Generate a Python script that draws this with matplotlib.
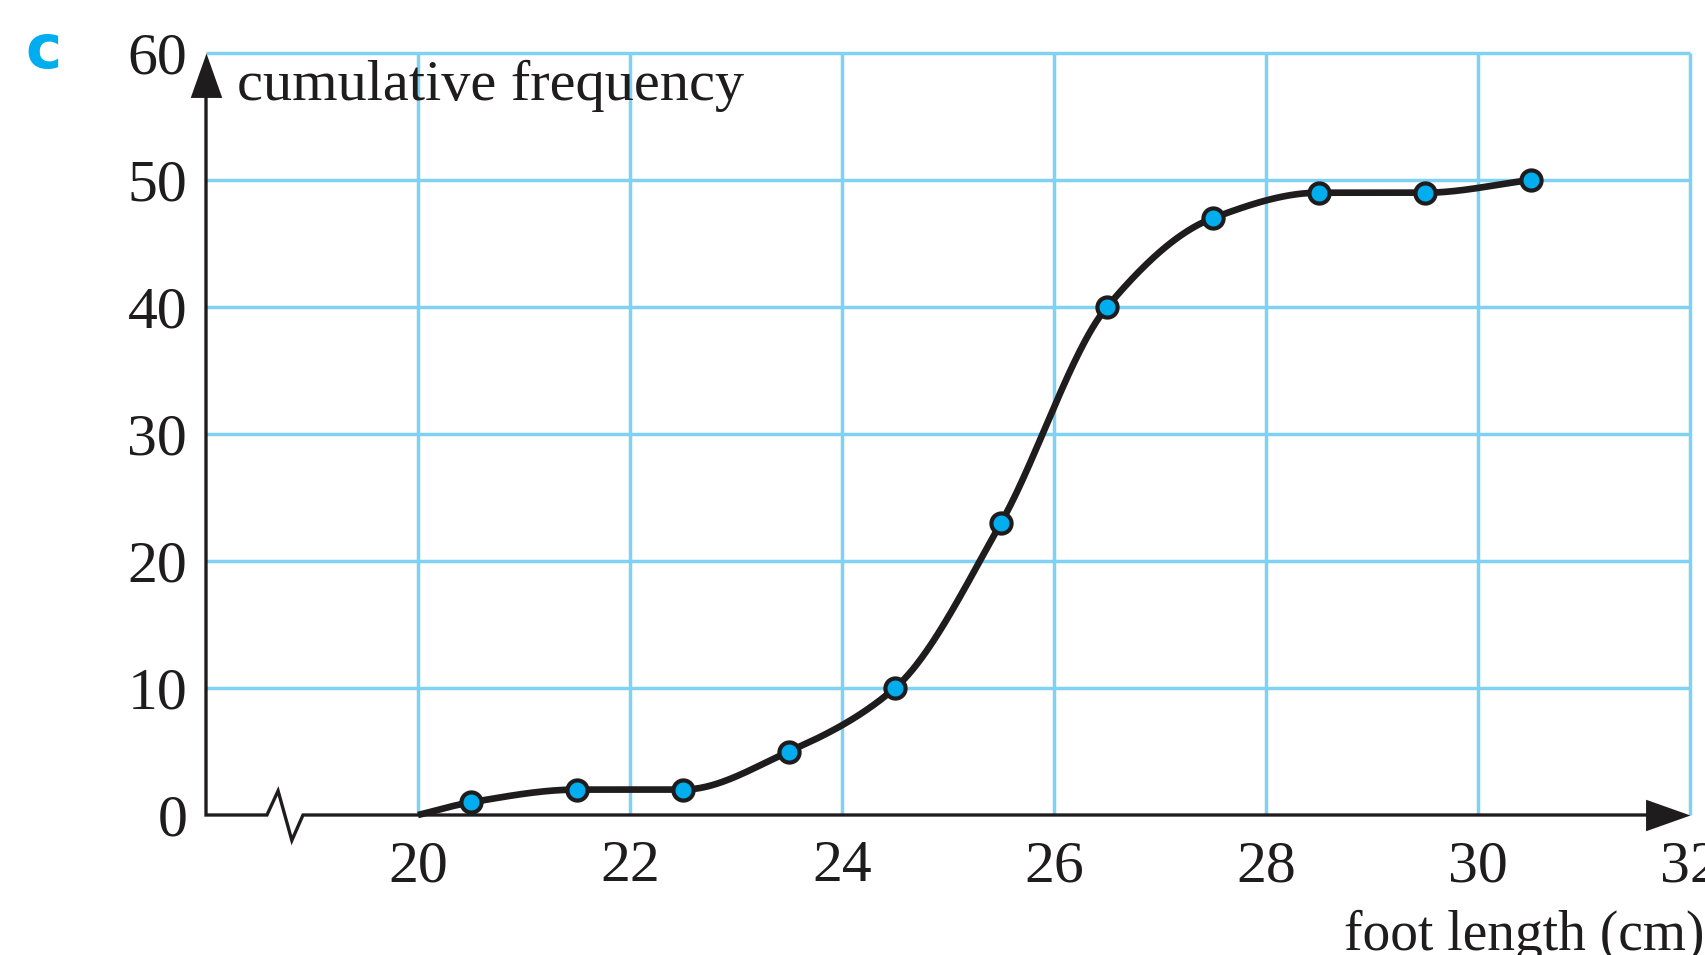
import numpy as np
import matplotlib
matplotlib.use("Agg")
import matplotlib.pyplot as plt
from matplotlib.path import Path

# Cumulative frequency of foot lengths (upper class boundaries)
foot_length = [20.5, 21.5, 22.5, 23.5, 24.5, 25.5, 26.5, 27.5, 28.5, 29.5, 30.5]
cum_freq = [1, 2, 2, 5, 10, 23, 40, 47, 49, 49, 50]
curve_start_x = [20.0]
curve_start_y = [0]
x_ticks = [20, 22, 24, 26, 28, 30, 32]
y_ticks = [0, 10, 20, 30, 40, 50, 60]

INK = "#1f1c1d"
GRID = "#80d2f4"
DOT = "#00aeef"
SERIF = ["Liberation Serif", "DejaVu Serif"]


def pchip(x, y, xs):
    """Monotone piecewise cubic (Fritsch-Carlson) through (x, y)."""
    x = np.asarray(x, float)
    y = np.asarray(y, float)
    h = np.diff(x)
    d = np.diff(y) / h
    m = np.zeros_like(y)
    for k in range(1, len(x) - 1):
        if d[k - 1] * d[k] <= 0:
            m[k] = 0.0
        else:
            w1 = 2 * h[k] + h[k - 1]
            w2 = h[k] + 2 * h[k - 1]
            m[k] = (w1 + w2) / (w1 / d[k - 1] + w2 / d[k])
    m[0] = d[0]
    m[-1] = d[-1]
    idx = np.clip(np.searchsorted(x, xs) - 1, 0, len(x) - 2)
    t = (xs - x[idx]) / h[idx]
    h00 = 2 * t**3 - 3 * t**2 + 1
    h10 = t**3 - 2 * t**2 + t
    h01 = -2 * t**3 + 3 * t**2
    h11 = t**3 - t**2
    return (h00 * y[idx] + h10 * h[idx] * m[idx]
            + h01 * y[idx + 1] + h11 * h[idx] * m[idx + 1])


W, H = 1706, 955
fig = plt.figure(figsize=(W / 100, H / 100), dpi=100)
ax = fig.add_axes([206 / W, 140 / H, (1690 - 206) / W, (815 - 53) / H])
ax.set_xlim(18, 32)
ax.set_ylim(0, 60)
for s in ax.spines.values():
    s.set_visible(False)

# light blue grid
ax.vlines(x_ticks, 0, 60, color=GRID, lw=2.5, zorder=1, clip_on=False)
ax.hlines(y_ticks[1:], 18, 32, color=GRID, lw=2.5, zorder=1, clip_on=False)

# axes with a broken x-axis near the origin
axis_x = [18, 18, 18.575, 18.68, 18.81, 18.915, 31.8]
axis_y = [59, 0, 0, 1.9, -2.0, 0, 0]
ax.plot(axis_x, axis_y, color=INK, lw=2.4, zorder=3, clip_on=False,
        solid_joinstyle="miter")

up_head = Path([(0, 0), (-0.355, -1), (0.355, -1), (0, 0)],
               [Path.MOVETO, Path.LINETO, Path.LINETO, Path.CLOSEPOLY])
right_head = Path([(0, 0), (-1, 0.355), (-1, -0.355), (0, 0)],
                  [Path.MOVETO, Path.LINETO, Path.LINETO, Path.CLOSEPOLY])
ax.plot([18], [60], marker=up_head, ms=64, color=INK, mew=0, zorder=4, clip_on=False)
ax.plot([32], [0], marker=right_head, ms=64, color=INK, mew=0, zorder=4, clip_on=False)

# smooth cumulative frequency curve
px = curve_start_x + foot_length
py = curve_start_y + cum_freq
xs = np.linspace(px[0], px[-1], 600)
ax.plot(xs, pchip(px, py, xs), color=INK, lw=4.8, zorder=5, clip_on=False,
        solid_capstyle="butt")
ax.plot(foot_length, cum_freq, "o", ms=14.5, mfc=DOT, mec=INK, mew=3,
        zorder=6, clip_on=False)

# tick labels
ax.set_xticks(x_ticks)
ax.set_xticklabels([str(v) for v in x_ticks])
ax.set_yticks(y_ticks)
ax.set_yticklabels([str(v) for v in y_ticks])
ax.tick_params(axis="x", length=0, pad=18, labelsize=43, labelcolor=INK)
ax.tick_params(axis="y", length=0, pad=13.5, labelsize=43, labelcolor=INK)
for lab in ax.get_xticklabels() + ax.get_yticklabels():
    lab.set_fontfamily(SERIF)

fig.text(237 / W, (H - 100) / H, "cumulative frequency", fontsize=42,
         family=SERIF, color=INK, ha="left", va="baseline")
fig.text(1344 / W, (H - 950) / H, "foot length (cm)", fontsize=40,
         family=SERIF, color=INK, ha="left", va="baseline")
fig.text(25 / W, (H - 68) / H, "c", fontsize=44, fontweight="bold",
         family=["DejaVu Sans"], color=DOT, ha="left", va="baseline")

fig.savefig("out.png", dpi=100)
